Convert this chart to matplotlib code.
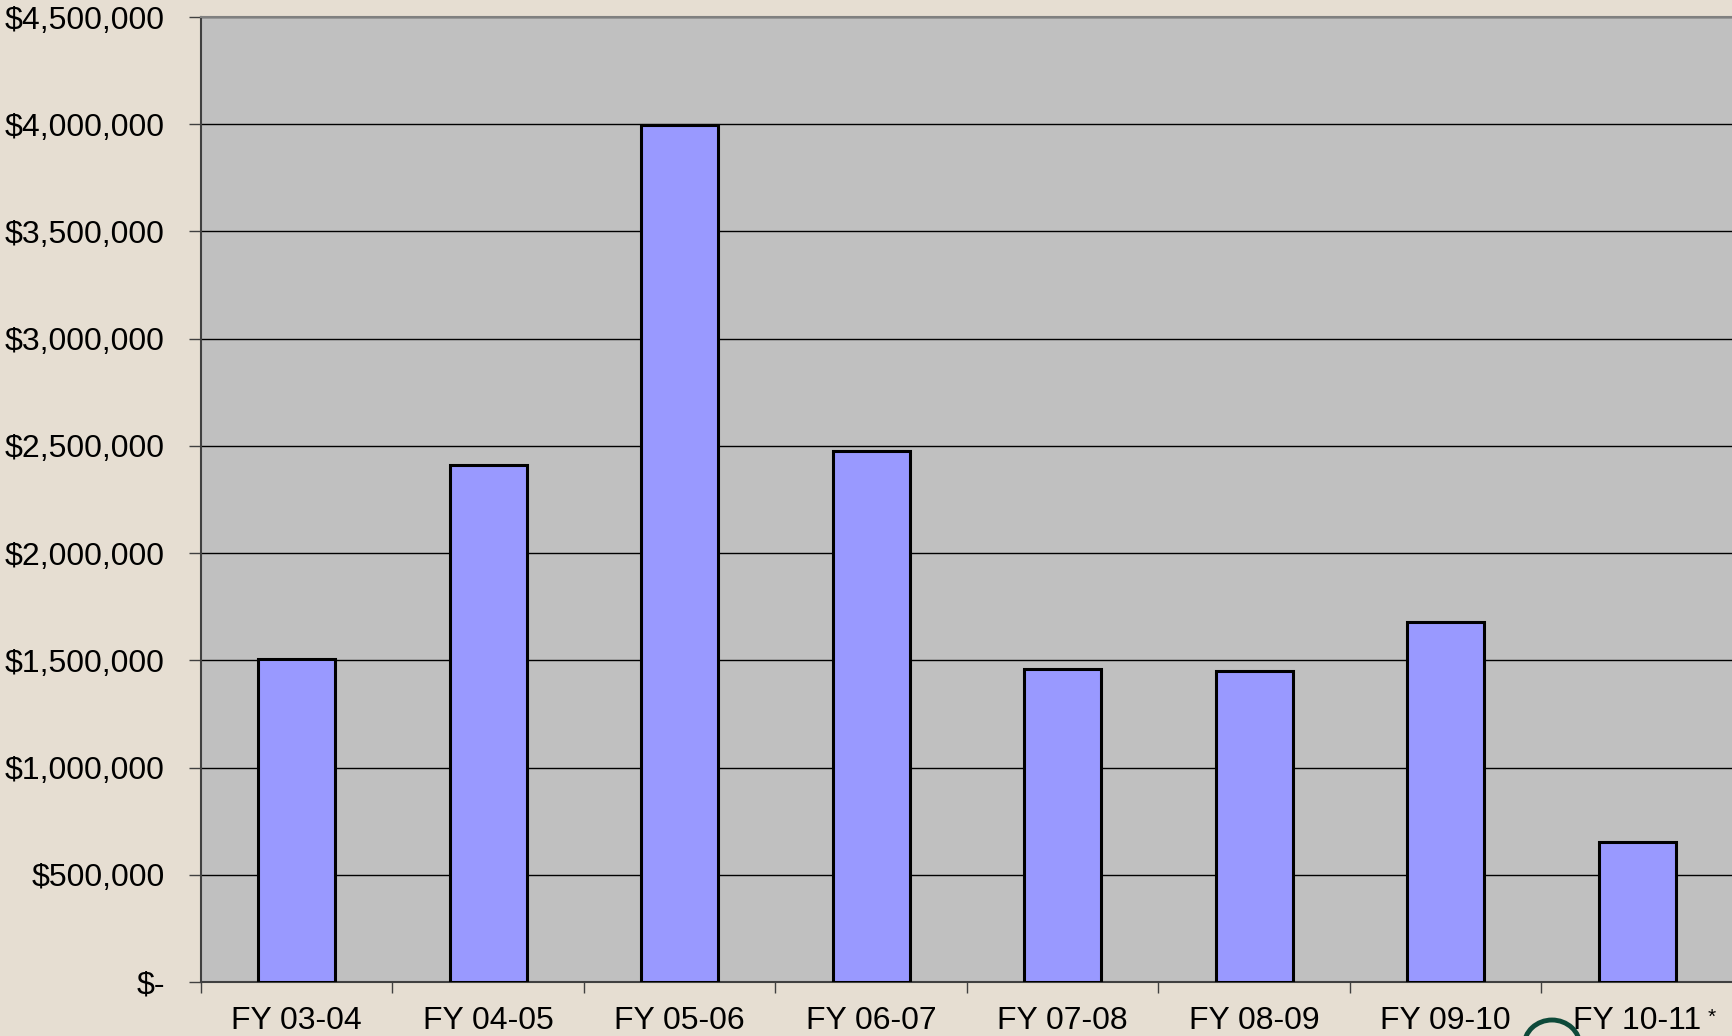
import matplotlib
matplotlib.use("Agg")
import matplotlib.pyplot as plt
import matplotlib.transforms as mtransforms
from matplotlib.patches import Arc
from matplotlib.ticker import FuncFormatter, MultipleLocator

# data
years = ["FY 03-04", "FY 04-05", "FY 05-06", "FY 06-07",
         "FY 07-08", "FY 08-09", "FY 09-10", "FY 10-11"]
amounts = [1505000, 2412000, 3995000, 2474000,
           1460000, 1452000, 1678000, 652000]
y_max = 4500000
y_step = 500000


def dollar_fmt(v, pos):
    if v == 0:
        return "$-"
    return f"${v:,.0f}"


plt.rcParams["font.family"] = ["Liberation Sans", "DejaVu Sans"]

fig = plt.figure(figsize=(17.33, 10.36), dpi=100)
fig.patch.set_facecolor("#e6ded2")
ax = fig.add_axes([201 / 1733, 1 - 982 / 1036, 1 - 201 / 1733, (982 - 17) / 1036])
ax.set_facecolor("#c0c0c0")

x = range(len(years))
ax.bar(x, amounts, width=0.4, color="#9999ff", edgecolor="black", linewidth=2.2, zorder=3)

ax.set_xlim(-0.5, len(years) - 0.5)
ax.set_ylim(0, y_max)
ax.yaxis.set_major_locator(MultipleLocator(y_step))
ax.yaxis.set_major_formatter(FuncFormatter(dollar_fmt))
ax.grid(axis="y", color="black", linewidth=1.0, zorder=1)

# category labels centred, ticks between categories
ax.set_xticks([i for i in x])
ax.set_xticklabels(years)
ax.set_xticks([i - 0.5 for i in range(len(years) + 1)], minor=True)
ax.tick_params(axis="x", which="major", length=0, pad=17, labelsize=23)
ax.tick_params(axis="x", which="minor", length=8, width=1, color="#404040")
ax.tick_params(axis="y", length=9, width=1, color="#404040", pad=17, labelsize=23)

# footnote star on the last (partial) year, raised and small
trans = mtransforms.blended_transform_factory(ax.transData, ax.transAxes)
ax.text(len(years) - 1 + 0.39, -0.027, "*", transform=trans, fontsize=15,
        ha="center", va="top", clip_on=False)

for side in ["left", "bottom"]:
    ax.spines[side].set_color("#404040")
    ax.spines[side].set_linewidth(1.5)
ax.spines["top"].set_color("#808080")
ax.spines["top"].set_linewidth(1.5)
ax.spines["right"].set_visible(False)

# bit of a logo peeking in at the bottom edge
fig.add_artist(Arc((1552 / 1733, 1 - 1046 / 1036), 56 / 1733, 52 / 1036,
                   theta1=0, theta2=180, color="#0e4a3a", linewidth=3.5,
                   transform=fig.transFigure, clip_on=False))

fig.savefig("out.png", dpi=100, facecolor=fig.get_facecolor())
